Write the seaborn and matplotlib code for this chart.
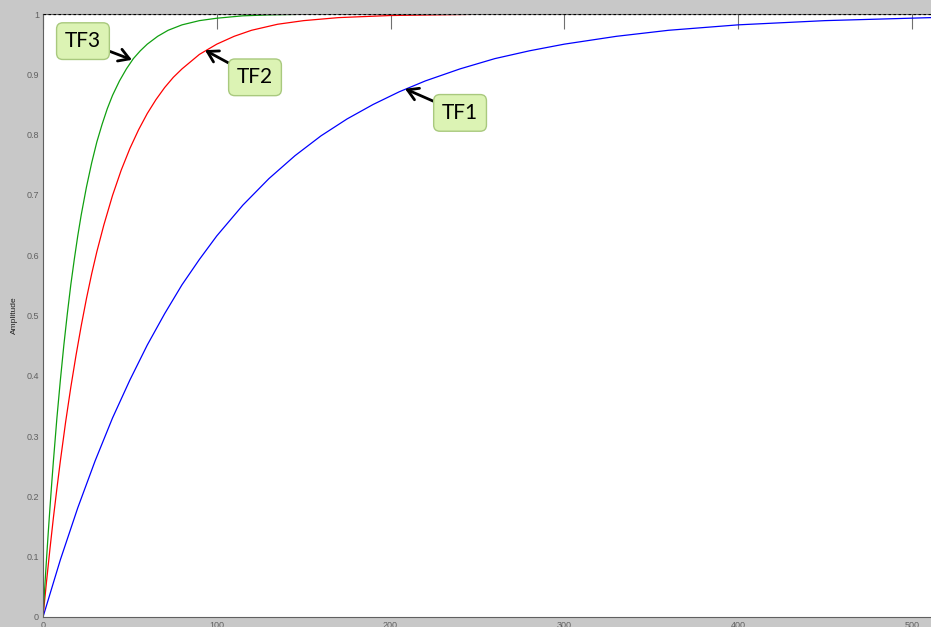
import matplotlib
matplotlib.use("Agg")
import matplotlib.pyplot as plt
import seaborn as sns
import pandas as pd

# step responses
t_tf1 = [0, 10, 20, 30, 40, 50, 60, 70, 80, 90, 100, 115, 130, 145, 160,
         175, 190, 205, 220, 240, 260, 280, 300, 330, 360, 400, 450, 511]
y_tf1 = [0, 0.095, 0.181, 0.259, 0.330, 0.393, 0.451, 0.503, 0.551, 0.593,
         0.632, 0.683, 0.727, 0.765, 0.798, 0.826, 0.850, 0.871, 0.889,
         0.909, 0.926, 0.939, 0.950, 0.963, 0.973, 0.982, 0.989, 0.994]

t_tf2 = [0, 2, 4, 6, 8, 10, 13, 16, 19, 22, 25, 28, 31, 35, 40, 45, 50, 55,
         60, 65, 70, 75, 80, 90, 100, 110, 120, 135, 150, 170, 200, 250, 511]
y_tf2 = [0, 0.058, 0.113, 0.165, 0.213, 0.259, 0.323, 0.381, 0.434, 0.483,
         0.528, 0.569, 0.606, 0.650, 0.699, 0.741, 0.777, 0.808, 0.835,
         0.858, 0.878, 0.895, 0.909, 0.933, 0.950, 0.963, 0.973, 0.983,
         0.989, 0.994, 0.9975, 0.9995, 1.0]

t_tf3 = [0, 1, 2, 3, 4, 5, 6, 8, 10, 12, 14, 16, 18, 20, 22, 25, 28, 31, 34,
         37, 40, 44, 48, 52, 56, 60, 66, 72, 80, 90, 100, 115, 130, 150, 200,
         511]
y_tf3 = [0, 0.049, 0.095, 0.139, 0.181, 0.221, 0.259, 0.330, 0.393, 0.451,
         0.503, 0.551, 0.593, 0.632, 0.667, 0.713, 0.753, 0.788, 0.817,
         0.843, 0.865, 0.889, 0.909, 0.926, 0.939, 0.950, 0.963, 0.973,
         0.982, 0.989, 0.993, 0.997, 0.9985, 0.9995, 1.0, 1.0]

final_value = 1.0
x_max = 511
x_ticks = [0, 100, 200, 300, 400, 500]
y_ticks = [0, 0.1, 0.2, 0.3, 0.4, 0.5, 0.6, 0.7, 0.8, 0.9, 1]
y_tick_labels = ["0", "0.1", "0.2", "0.3", "0.4", "0.5", "0.6", "0.7",
                 "0.8", "0.9", "1"]

# label boxes: (name, point on curve, box centre)
labels = [("TF3", (51.2, 0.924), (23, 0.955)),
          ("TF2", (93.2, 0.940), (122, 0.895)),
          ("TF1", (208.3, 0.876), (240, 0.836))]

df = pd.concat([
    pd.DataFrame({"Time": t_tf1, "Amplitude": y_tf1, "sys": "TF1"}),
    pd.DataFrame({"Time": t_tf2, "Amplitude": y_tf2, "sys": "TF2"}),
    pd.DataFrame({"Time": t_tf3, "Amplitude": y_tf3, "sys": "TF3"}),
])

sns.set_style("white")
plt.rcParams["font.family"] = ["Liberation Sans", "DejaVu Sans"]

fig = plt.figure(figsize=(9.31, 6.27), dpi=100, facecolor="#c8c8c8")
ax = fig.add_axes([43 / 931, 10 / 627, 888 / 931, 603 / 627])
ax.set_facecolor("white")

sns.lineplot(data=df, x="Time", y="Amplitude", hue="sys",
             palette={"TF1": "#0000ff", "TF2": "#ff0000", "TF3": "#10a010"},
             linewidth=0.9, legend=False, ax=ax, estimator=None, sort=False)

ax.axhline(final_value, color="black", linestyle=(0, (2, 2)), linewidth=0.9,
           zorder=5)

ax.set_xlim(0, x_max)
ax.set_ylim(0, 1)
ax.set_xticks(x_ticks)
ax.set_yticks(y_ticks)
ax.set_yticklabels(y_tick_labels)
ax.tick_params(direction="in", length=11, width=0.8, color="#707070",
               labelcolor="#606060", labelsize=6.5, top=True, right=False,
               pad=3)
ax.set_xlabel("")
ax.set_ylabel("Amplitude", fontsize=6, color="#222222", labelpad=6)

for side in ["left", "bottom", "top"]:
    ax.spines[side].set_color("#606060")
    ax.spines[side].set_linewidth(0.8)
ax.spines["right"].set_visible(False)

for name, point, box in labels:
    ax.annotate(name, xy=point, xytext=box, ha="center", va="center",
                fontsize=15, family=["Lato", "DejaVu Sans"], color="black",
                bbox=dict(boxstyle="round,pad=0.4,rounding_size=0.3",
                          fc="#dcf3b4", ec="#a9c97e", lw=1),
                arrowprops=dict(arrowstyle="->,head_length=0.5,head_width=0.3",
                                color="black", lw=2, shrinkA=0, shrinkB=0),
                zorder=6)

plt.savefig("out.png", dpi=100, facecolor=fig.get_facecolor())
